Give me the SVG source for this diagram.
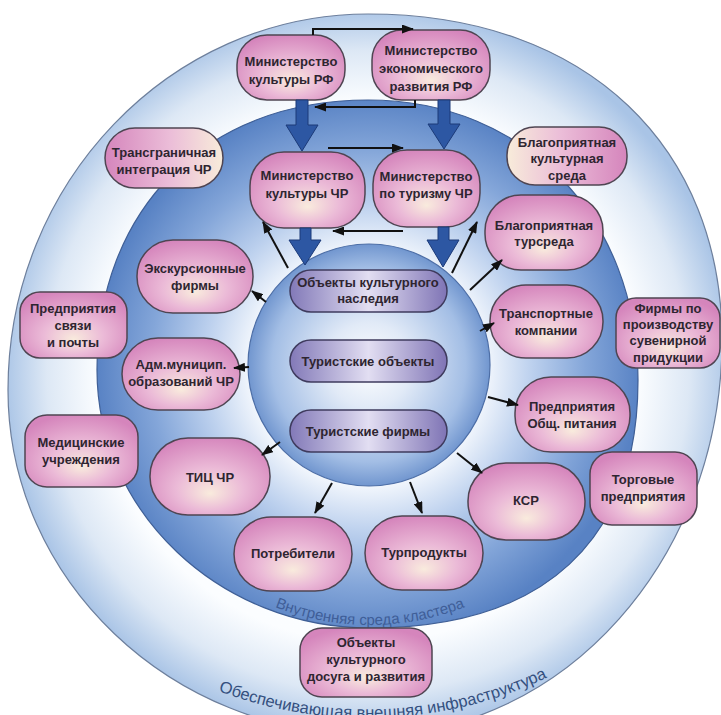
<svg xmlns="http://www.w3.org/2000/svg" width="721" height="715" viewBox="0 0 721 715">
<defs>
<radialGradient id="gOuter" gradientUnits="userSpaceOnUse" cx="368" cy="372" r="365">
<stop offset="0" stop-color="#ffffff"/><stop offset="0.74" stop-color="#fbfdff"/><stop offset="0.88" stop-color="#dde8f5"/><stop offset="1" stop-color="#a9c4e6"/>
</radialGradient>
<radialGradient id="gRing" gradientUnits="userSpaceOnUse" cx="368" cy="368" r="272">
<stop offset="0" stop-color="#ffffff"/><stop offset="0.44" stop-color="#f0f5fc"/><stop offset="0.6" stop-color="#bdd1ee"/><stop offset="0.8" stop-color="#84a6d9"/><stop offset="1" stop-color="#5882c4"/>
</radialGradient>
<radialGradient id="gSphere" cx="0.5" cy="0.5" r="0.5">
<stop offset="0" stop-color="#ffffff"/><stop offset="0.35" stop-color="#e1eaf7"/><stop offset="0.8" stop-color="#a3bee5"/><stop offset="1" stop-color="#7196cf"/>
</radialGradient>
<radialGradient id="gPink" cx="0.5" cy="0.6" r="0.62" fx="0.5" fy="0.72">
<stop offset="0" stop-color="#f9ebdd"/><stop offset="0.45" stop-color="#ebbad7"/><stop offset="1" stop-color="#d585bc"/>
</radialGradient>
<linearGradient id="gPinkR" x1="0" y1="0" x2="1" y2="0">
<stop offset="0" stop-color="#d585bc"/><stop offset="0.55" stop-color="#ebbdd8"/><stop offset="1" stop-color="#f8ecda"/>
</linearGradient>
<linearGradient id="gPinkL" x1="0" y1="0" x2="1" y2="0">
<stop offset="0" stop-color="#f8ecda"/><stop offset="0.45" stop-color="#ebbdd8"/><stop offset="1" stop-color="#d585bc"/>
</linearGradient>
<linearGradient id="gPurple" x1="0" y1="0" x2="1" y2="0">
<stop offset="0" stop-color="#8279b8"/><stop offset="0.5" stop-color="#e2def2"/><stop offset="1" stop-color="#7f74b5"/>
</linearGradient>
<marker id="ah" viewBox="0 0 12 9" refX="11" refY="4.5" markerWidth="12" markerHeight="9" markerUnits="userSpaceOnUse" orient="auto">
<path d="M0,0 L12,4.5 L0,9 z" fill="#111"/>
</marker>
<path id="arcIn" d="M110,365 A260,260 0 0,0 630,365"/>
<path id="arcOut" d="M-55,296 A422,422 0 0,0 789,296"/>
<style>
.pk{fill:url(#gPink);stroke:#4f4552;stroke-width:1.5}
.pu{fill:url(#gPurple);stroke:#3f3b5e;stroke-width:1.5}
.t{font-family:"Liberation Sans",Arial,sans-serif;font-weight:bold;font-size:13px;fill:#2e2530;text-anchor:middle}
.ln{stroke:#111;stroke-width:2;fill:none;marker-end:url(#ah)}
.big{fill:#2d57a3;stroke:#1c3a78;stroke-width:1}
.arc{font-family:"Liberation Sans",Arial,sans-serif;text-anchor:middle}
</style>
</defs>
<rect width="721" height="715" fill="#ffffff"/>
<g id="background">
<path d="M368,14 C590,14 722,150 722,340 C722,557 565,735 370,735 C171,735 8,580 8,390 C8,183 170,14 368,14 Z" fill="url(#gOuter)" stroke="#6d7f9c" stroke-width="1.2"/>
<path d="M368,100 C525,100 638,218 638,380 C638,541 544,628 370,628 C220,628 97,512 97,370 C97,210 205,100 368,100 Z" fill="url(#gRing)" stroke="#3f5f96" stroke-width="1.2"/>
<circle cx="369" cy="365" r="121" fill="url(#gSphere)" stroke="#4d6ea6" stroke-width="1.2"/>
<text class="arc" font-size="15" fill="#3f5e98"><textPath href="#arcIn" startOffset="50%">Внутренняя среда кластера</textPath></text>
<text class="arc" font-size="16.5" fill="#34507f"><textPath href="#arcOut" startOffset="51.3%">Обеспечивающая внешняя инфраструктура</textPath></text>
</g>
<g id="core-heritage"><rect class="pu" x="290" y="270" width="157" height="42" rx="21"/><text class="t" x="368"><tspan x="368" y="287">Объекты культурного</tspan><tspan x="368" y="303">наследия</tspan></text></g>
<g id="core-objects"><rect class="pu" x="290" y="340" width="157" height="42" rx="21"/><text class="t" x="368" y="366">Туристские объекты</text></g>
<g id="core-firms"><rect class="pu" x="290" y="410" width="157" height="42" rx="21"/><text class="t" x="368" y="436">Туристские фирмы</text></g>

<g id="mkrf"><rect class="pk" x="237" y="35" width="108" height="65" rx="30"/><text class="t"><tspan x="291" y="66">Министерство</tspan><tspan x="291" y="84">культуры РФ</tspan></text></g>
<g id="mer"><rect class="pk" x="372" y="30" width="118" height="70" rx="30"/><text class="t"><tspan x="431" y="55">Министерство</tspan><tspan x="431" y="73">экономического</tspan><tspan x="431" y="91">развития РФ</tspan></text></g>
<g id="mkchr"><rect class="pk" x="250" y="152" width="115" height="76" rx="34"/><text class="t"><tspan x="307" y="180">Министерство</tspan><tspan x="307" y="198">культуры ЧР</tspan></text></g>
<g id="mtchr"><rect class="pk" x="373" y="150" width="107" height="77" rx="34"/><text class="t"><tspan x="426" y="181">Министерство</tspan><tspan x="426" y="198">по туризму ЧР</tspan></text></g>
<g id="trans"><rect x="105" y="128" width="118" height="60" rx="30" fill="url(#gPinkR)" stroke="#4f4552" stroke-width="1.5"/><text class="t"><tspan x="164" y="157">Трансграничная</tspan><tspan x="164" y="174">интеграция ЧР</tspan></text></g>
<g id="kultsreda"><rect x="507" y="127" width="120" height="58" rx="28" fill="url(#gPinkL)" stroke="#4f4552" stroke-width="1.5"/><text class="t"><tspan x="567" y="147">Благоприятная</tspan><tspan x="567" y="163">культурная</tspan><tspan x="567" y="180">среда</tspan></text></g>
<g id="tursreda"><rect class="pk" x="485" y="195" width="118" height="75" rx="36"/><text class="t"><tspan x="544" y="230">Благоприятная</tspan><tspan x="544" y="246">турсреда</tspan></text></g>
<g id="ekskurs"><rect class="pk" x="137" y="240" width="116" height="73" rx="36"/><text class="t"><tspan x="195" y="273">Экскурсионные</tspan><tspan x="195" y="290">фирмы</tspan></text></g>
<g id="svyaz"><rect class="pk" x="20" y="292" width="107" height="66" rx="20"/><text class="t"><tspan x="73" y="313">Предприятия</tspan><tspan x="73" y="330">связи</tspan><tspan x="73" y="347">и почты</tspan></text></g>
<g id="transport"><rect class="pk" x="490" y="285" width="113" height="73" rx="36"/><text class="t"><tspan x="546" y="318">Транспортные</tspan><tspan x="546" y="335">компании</tspan></text></g>
<g id="suvenir"><rect class="pk" x="616" y="298" width="104" height="70" rx="20"/><text class="t"><tspan x="668" y="313">Фирмы по</tspan><tspan x="668" y="329">производству</tspan><tspan x="668" y="345">сувенирной</tspan><tspan x="668" y="362">придукции</tspan></text></g>
<g id="adm"><rect class="pk" x="122" y="338" width="118" height="72" rx="36"/><text class="t"><tspan x="181" y="369">Адм.муницип.</tspan><tspan x="181" y="386">образований ЧР</tspan></text></g>
<g id="pitanie"><rect class="pk" x="515" y="377" width="115" height="75" rx="36"/><text class="t"><tspan x="572" y="411">Предприятия</tspan><tspan x="572" y="428">Общ. питания</tspan></text></g>
<g id="med"><rect class="pk" x="25" y="415" width="113" height="72" rx="22"/><text class="t"><tspan x="81" y="447">Медицинские</tspan><tspan x="81" y="464">учреждения</tspan></text></g>
<g id="tic"><rect class="pk" x="150" y="438" width="120" height="77" rx="38"/><text class="t" x="210" y="482">ТИЦ ЧР</text></g>
<g id="torg"><rect class="pk" x="590" y="452" width="107" height="73" rx="22"/><text class="t"><tspan x="643" y="484">Торговые</tspan><tspan x="643" y="501">предприятия</tspan></text></g>
<g id="ksr"><rect class="pk" x="468" y="463" width="117" height="77" rx="38"/><text class="t" x="526" y="505">КСР</text></g>
<g id="potr"><rect class="pk" x="234" y="517" width="118" height="74" rx="37"/><text class="t" x="293" y="558">Потребители</text></g>
<g id="turprod"><rect class="pk" x="365" y="516" width="118" height="74" rx="37"/><text class="t" x="424" y="557">Турпродукты</text></g>
<g id="dosug"><rect class="pk" x="300" y="628" width="132" height="69" rx="22"/><text class="t"><tspan x="366" y="647">Объекты</tspan><tspan x="366" y="664">культурного</tspan><tspan x="366" y="681">досуга и развития</tspan></text></g>

<g id="connectors">
<path class="big" d="M296,100 H308 V125 H318 L302,151 L286,125 H296 Z"/>
<path class="big" d="M438,100 H450 V124 H460 L444,149 L428,124 H438 Z"/>
<path class="big" d="M300,228 H311 V240 H321 L305,265 L289,240 H300 Z"/>
<path class="big" d="M438,227 H449 V240 H459 L443,267 L427,240 H438 Z"/>
<path class="ln" d="M313,35 V29 H413"/>
<path class="ln" d="M415,100 V107 H315"/>
<path class="ln" d="M328,148 H403"/>
<path class="ln" d="M403,231 H333"/>
<path class="ln" d="M288,268 L263,222"/>
<path class="ln" d="M452,273 L477,222"/>
<path class="ln" d="M470,290 L502,260"/>
<path class="ln" d="M480,331 L494,323"/>
<path class="ln" d="M488,397 L518,405"/>
<path class="ln" d="M457,453 L482,473"/>
<path class="ln" d="M410,482 L422,513"/>
<path class="ln" d="M332,483 L315,513"/>
<path class="ln" d="M280,442 L262,455"/>
<path class="ln" d="M249,367 L234,368"/>
<path class="ln" d="M266,302 L252,291"/>
</g>
</svg>
